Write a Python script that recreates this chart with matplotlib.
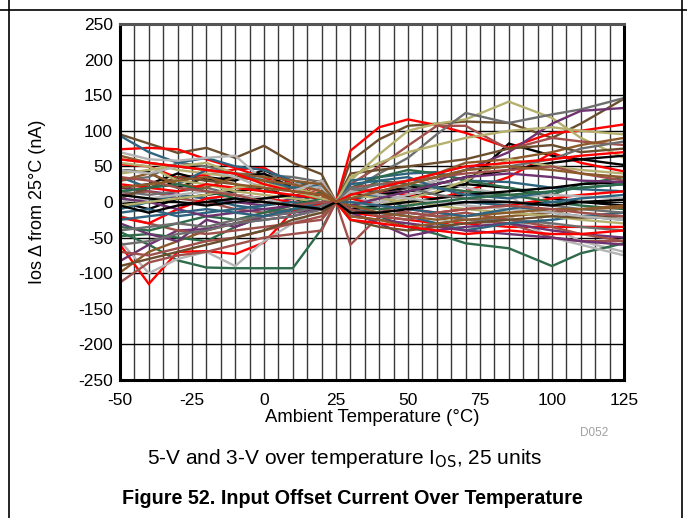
import matplotlib
matplotlib.use("Agg")
import matplotlib.pyplot as plt
from matplotlib.lines import Line2D

plt.rcParams['font.family'] = ['Liberation Sans', 'DejaVu Sans']
plt.rcParams['axes.unicode_minus'] = False

# temperatures where every unit was measured (°C)
temps = [-50, -40, -30, -20, -10, 0, 10, 20, 25, 30, 40, 50, 60, 70, 85, 100, 110, 125]

# palette used by the datasheet
BLACK = '#000000'
RED = '#FF0000'
BROWN_DK = '#6B4E2E'
BROWN = '#8C5A2B'
OLIVE = '#B5B06E'
GRAY = '#6E6E6E'
LGRAY = '#B4B4B4'
BLUE = '#2F6480'
GREEN = '#2E6B4A'
PURPLE = '#6E3270'
ROSE = '#A0504A'

# Ios delta from 25°C (nA), one list per unit / supply
unit_colors = [
    BROWN_DK, BLACK, RED, RED, OLIVE, GRAY, PURPLE, ROSE, BLUE, LGRAY,
    GREEN, RED, LGRAY, ROSE, BROWN, PURPLE, BLACK, BLACK, BLUE, GREEN,
    OLIVE, GRAY, BROWN_DK, ROSE, RED, BLUE, LGRAY, PURPLE, GREEN, BROWN,
    OLIVE, ROSE, BLACK, GRAY, BLUE, BROWN_DK, RED, LGRAY, GREEN, PURPLE,
    OLIVE, BROWN, BLUE, GRAY, ROSE, BLACK, RED, BROWN,
]
unit_values = [
    [95, 82, 69, 76, 62, 79, 55, 39, 0, 57, 88, 107, 110, 113, 111, 90, 110, 145],
    [45, 42, 20, 35, 30, 45, 25, 20, 0, -5, 5, 8, 13, 25, 82, 65, 60, 52],
    [74, 76, 74, 60, 48, 34, 20, 11, 0, 72, 105, 116, 108, 97, 76, 97, 100, 109],
    [53, 50, 34, 38, 46, 48, 25, 15, 0, 20, 15, 10, 5, 15, 35, 69, 55, 43],
    [60, 55, 45, 40, 35, 30, 15, 10, 0, 30, 67, 100, 110, 116, 141, 118, 90, 62],
    [30, 35, 55, 50, 40, 38, 35, 28, 0, 15, 40, 62, 95, 125, 111, 123, 130, 146],
    [20, 15, 10, 5, 0, -5, 5, 10, 0, 5, 10, 20, 30, 45, 70, 110, 128, 132],
    [10, 15, 5, 0, -10, -15, -10, -5, 0, 25, 50, 79, 107, 107, 74, 90, 85, 80],
    [93, 70, 55, 62, 50, 45, 30, 20, 0, 30, 35, 40, 42, 30, 28, 20, 18, 15],
    [70, 60, 58, 62, 65, 30, 25, 20, 0, 10, 15, 20, 30, 20, 10, -35, -55, -70],
    [-42, -60, -82, -92, -93, -93, -93, -38, 0, -10, -20, -35, -45, -58, -65, -90, -72, -58],
    [-60, -115, -70, -69, -73, -57, -13, -3, 0, -15, -20, -25, -30, -30, -35, -35, -35, -35],
    [-55, -100, -80, -70, -90, -55, -30, -10, 0, 5, 0, -5, -20, -40, -20, -50, -60, -75],
    [-113, -85, -75, -70, -60, -50, -45, -40, 0, -60, -20, -15, -20, -25, -30, -50, -55, -55],
    [-99, -70, -55, -40, -30, -20, -10, -5, 0, 10, 20, 30, 40, 55, 60, 70, 80, 90],
    [-83, -60, -40, -38, -30, -25, -20, -10, 0, -15, -30, -48, -40, -35, -30, -40, -45, -50],
    [20, 25, 40, 30, 35, 40, 20, 10, 0, 5, 10, 15, 20, 25, 20, 5, 0, -5],
    [0, -10, 5, 10, 15, 20, 5, -5, 0, 10, 15, 20, 25, 35, 45, 55, 60, 65],
    [-10, 0, 10, 5, -5, -10, -15, -5, 0, 5, 10, -10, -5, 0, -5, -15, -20, -25],
    [-48, -45, -50, -55, -35, -20, -10, -5, 0, 20, 35, 45, 40, 30, 20, 10, 25, 35],
    [40, 45, 50, 55, 40, 25, 20, 10, 0, 0, -5, 5, 15, 30, 60, 50, 45, 40],
    [15, 10, 15, 20, 10, 5, 10, 5, 0, -5, -10, -15, -20, -25, -25, -30, -35, -40],
    [5, 20, 35, 30, 25, 15, 20, 30, 0, 40, 45, 50, 55, 60, 75, 80, 70, 75],
    [-20, -30, -40, -45, -40, -35, -30, -25, 0, -5, -10, -15, -20, -15, -25, -35, -45, -55],
    [-22, -30, -10, 5, 10, 5, 0, -5, 0, 5, -5, -10, -15, -10, -5, 5, 10, 15],
    [35, 20, 25, 45, 40, 30, 20, 25, 0, -10, -15, -20, -30, -40, -30, -25, -20, -15],
    [0, 5, 10, 15, 10, 5, -5, -10, 0, -10, 0, 10, 20, 15, 5, 10, 8, 5],
    [-30, -45, -55, -25, -35, -20, -15, -10, 0, -20, -25, -30, -35, -40, -45, -50, -55, -60],
    [-35, -40, -30, -20, -25, -15, -5, 15, 0, 10, 30, 25, 20, 15, 10, 0, -5, -10],
    [30, 40, 25, 20, 35, 30, 25, 15, 0, -20, -25, -35, -30, -25, -20, -15, -10, -5],
    [55, 50, 30, 25, 15, 10, 5, 0, 0, 10, 5, 0, -5, -10, -15, -20, -25, -30],
    [-70, -75, -65, -55, -50, -40, -30, -20, 0, 20, 25, 30, 35, 40, 45, 50, 40, 30],
    [10, 5, 0, -5, 0, 5, 10, 5, 0, -10, -5, 0, 5, 10, 15, 20, 25, 28],
    [-40, -35, -30, -35, -25, -20, -15, -5, 0, 15, 25, 20, 10, 5, 0, -5, -10, -15],
    [-15, -10, -20, -15, -10, -5, 0, -10, 0, 25, 30, 35, 20, 10, 5, 15, 20, 25],
    [-90, -80, -70, -60, -50, -40, -25, -15, 0, -25, -35, -40, -35, -30, -25, -20, -22, -20],
    [25, 20, 15, 25, 20, 15, 10, 5, 0, -25, -30, -35, -40, -45, -40, -45, -45, -40],
    [45, 40, 50, 45, 35, 20, 15, 30, 0, 15, 10, 5, 0, -5, -10, -15, -20, -25],
    [15, 20, 25, 15, 5, 0, -5, 5, 0, -5, -10, -5, 0, 5, 10, 15, 20, 25],
    [5, 0, -10, -20, -15, -10, -5, 0, 0, -5, 5, 15, 25, 35, 40, 35, 30, 28],
    [-5, 0, 5, 10, 20, 25, 15, 5, 0, 35, 55, 70, 80, 90, 100, 105, 100, 95],
    [65, 55, 50, 45, 40, 35, 30, 25, 0, -5, -15, -20, -25, -20, -15, -10, -10, -8],
    [-25, -20, -15, -10, -15, -20, -10, 0, 0, 0, -5, -10, -15, -20, -10, 0, 5, 10],
    [-60, -55, -45, -40, -30, -25, -20, -10, 0, 20, 15, 25, 35, 45, 50, 60, 75, 85],
    [35, 30, 20, 15, 10, 0, -5, 0, 0, -10, -20, -25, -15, -10, -5, -10, -15, -20],
    [-5, -15, -5, 0, 5, 0, -5, -10, 0, -15, -15, -10, -5, 0, 0, -5, 0, 3],
    [60, 55, 50, 45, 40, 25, 15, 10, 0, 10, 20, 30, 40, 50, 55, 60, 65, 70],
    [20, 25, 30, 35, 25, 20, 15, 10, 0, 5, 15, 25, 35, 45, 50, 45, 40, 35],
]

x_ticks = [-50, -25, 0, 25, 50, 75, 100, 125]
y_ticks = [-250, -200, -150, -100, -50, 0, 50, 100, 150, 200, 250]

fig = plt.figure(figsize=(6.87, 5.18), dpi=100)
ax = fig.add_axes([0.1747, 0.2664, 0.7336, 0.6873])

# grid: vertical every 5 °C, horizontal every 50 nA
for gx in range(-45, 125, 5):
    ax.axvline(gx, color='#3a3a3a', lw=1.0, zorder=1)
for gy in range(-200, 250, 50):
    ax.axhline(gy, color='black', lw=1.0, zorder=1)

for c, vals in zip(unit_colors, unit_values):
    ax.plot(temps, vals, color=c, lw=1.7, zorder=3, solid_joinstyle='miter')

ax.set_xlim(-50, 125)
ax.set_ylim(-250, 250)
ax.set_xticks(x_ticks)
ax.set_yticks(y_ticks)
ax.tick_params(length=0, labelsize=12.5)
ax.tick_params(axis='x', pad=9)
ax.tick_params(axis='y', pad=5)
for s in ax.spines.values():
    s.set_linewidth(2.2)
    s.set_zorder(5)
ax.spines['top'].set_color('#555555')

ax.set_xlabel('Ambient Temperature (°C)', fontsize=13.3, va='center')
ax.set_ylabel('Ios Δ from 25°C (nA)', fontsize=13, va='center')
ax.xaxis.set_label_coords(0.5, -0.104)
ax.yaxis.set_label_coords(-0.163, 0.5)

fig.text(594 / 687, 1 - 433 / 518, 'D052', color='#a0a0a0', fontsize=8.5,
         ha='center', va='center')
fig.text(345 / 687, 1 - 458 / 518, '5-V and 3-V over temperature I$_{\\mathrm{OS}}$, 25 units',
         fontsize=15, ha='center', va='center')
fig.text(352 / 687, 1 - 499 / 518, 'Figure 52. Input Offset Current Over Temperature',
         fontsize=14.2, fontweight='bold', ha='center', va='center')

# outer table frame
fig.add_artist(Line2D([0, 1], [1 - 10 / 518] * 2, transform=fig.transFigure,
                      color='black', lw=1.2))
fig.add_artist(Line2D([9 / 687] * 2, [0, 1], transform=fig.transFigure,
                      color='black', lw=1.2))
fig.add_artist(Line2D([682 / 687] * 2, [0, 1], transform=fig.transFigure,
                      color='black', lw=1.2))

fig.savefig('out.png', dpi=100, facecolor='white')
